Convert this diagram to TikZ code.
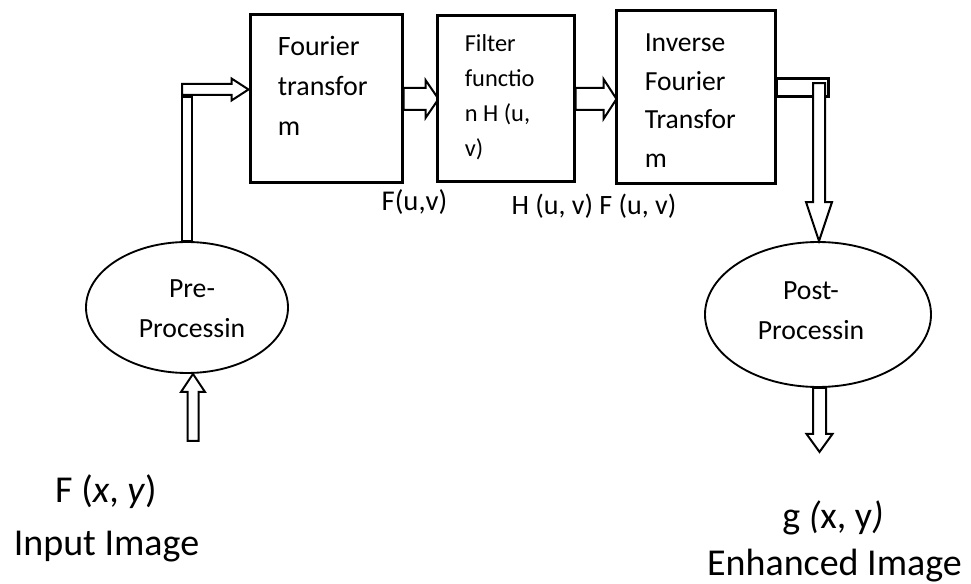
\documentclass[tikz,border=0pt]{standalone}
\usepackage{fontspec}
\setmainfont{Carlito}
\usetikzlibrary{calc,shapes.geometric,backgrounds}
\newcommand\stk[2][l]{\begin{tabular}[t]{@{}#1@{}}#2\end{tabular}}
\begin{document}
\begin{tikzpicture}[x=0.75pt,y=-0.75pt,
  box/.style={draw, line width=2.25pt, fill=white, inner sep=0pt},
  oval/.style={draw, ellipse, line width=1.4pt, fill=white, inner sep=0pt},
  blk/.style={draw, line width=1.5pt, fill=white, line join=miter},
  bar/.style={draw, line width=2.25pt, fill=white},
  txt/.style={inner sep=0pt, text=black}]
\useasboundingbox (0,0) rectangle (971,584);

% blocks
\node[box, minimum width=152*0.75pt, minimum height=168*0.75pt] (b1) at (326,99) {};
\node[box, minimum width=137*0.75pt, minimum height=166*0.75pt] (b2) at (505.5,99) {};
\node[box, minimum width=159*0.75pt, minimum height=173*0.75pt] (b3) at (695.5,97.5) {};
\node[oval, minimum width=202*0.75pt, minimum height=131*0.75pt] (pre) at (187,307.5) {};
\node[oval, minimum width=226*0.75pt, minimum height=145*0.75pt] (post) at (818,314.5) {};

% texts inside blocks
\node[txt, anchor=base west, font=\fontsize{21}{30}\selectfont] (t1) at ($(b1.north west)+(29,42)$) {\stk{Fourier\\transfor\\m}};
\node[txt, anchor=base west, font=\fontsize{18.3}{26.25}\selectfont] (t2) at ($(b2.north west)+(29,37)$) {\stk{Filter\\functio\\n H (u,\\v)}};
\node[txt, anchor=base west, font=\fontsize{20.7}{29}\selectfont] (t3) at ($(b3.north west)+(30,42)$) {\stk{Inverse\\Fourier\\Transfor\\m}};
\node[txt, anchor=base, font=\fontsize{20.8}{30}\selectfont] (tp) at ($(pre.center)+(5,-9.5)$) {\stk[c]{Pre-\\Processin}};
\node[txt, anchor=base, font=\fontsize{20.8}{30}\selectfont] (tq) at ($(post.center)+(-7,-14.5)$) {\stk[c]{Post-\\Processin}};

% connector labels
\node[txt, anchor=base, font=\fontsize{21.5}{25}\selectfont] (l1) at ($(b1.south east)+(11,26)$) {F(u,v)};
\node[txt, anchor=base, font=\fontsize{21}{25}\selectfont] (l2) at ($(b3.south west)+(-20.5,29)$) {H (u, v) F (u, v)};

% input / output labels
\node[txt, anchor=base, font=\fontsize{28.5}{34}\selectfont] (in1) at (106,502) {F (\textit{x}, \textit{y})};
\node[txt, anchor=base, font=\fontsize{28.5}{34}\selectfont] (in2) at (106.5,555) {Input Image};
\node[txt, anchor=base, font=\fontsize{28.5}{34}\selectfont] (out1) at (833,528) {g \textit{(}x, y\textit{)}};
\node[txt, anchor=base, font=\fontsize{28.5}{34}\selectfont] (out2) at (834.5,575) {Enhanced Image};

% coordinates for connectors
\coordinate (r1) at ($(pre.north)+(-5,0)$);
\coordinate (a1t) at ($(b1.west)+(0,-9.5)$);
\coordinate (a1s) at (r1 |- a1t);
\coordinate (a2s) at (b1.east);
\coordinate (a2t) at ($(b2.west)+(3,0)$);
\coordinate (a3s) at (b2.east);
\coordinate (a3t) at ($(b3.west |- b2.east)+(2,0)$);
\coordinate (a4t) at ($(post.north)+(1,0)$);
\coordinate (a4s) at ($(a4t)+(0,-158)$);
\coordinate (a5t) at ($(pre.south)+(6,0)$);
\coordinate (a5s) at ($(a5t)+(0,67)$);
\coordinate (a6s) at ($(post.south)+(1.5,0)$);
\coordinate (a6t) at ($(a6s)+(0,64)$);

\begin{scope}[on background layer]
  % vertical bar from Pre-processing
  \draw[blk] (r1) rectangle ($(r1)+(10,-144)$);
  % arrow into Fourier transform
  \draw[blk] ($(a1s)+(0,-5.5)$) -- ($(a1t)+(-17,-5.5)$) -- ($(a1t)+(-17,-11)$) -- (a1t)
     -- ($(a1t)+(-17,11)$) -- ($(a1t)+(-17,5.5)$) -- ($(a1s)+(0,5.5)$) -- cycle;
  % Fourier -> Filter
  \draw[blk] ($(a2s)+(0,-11)$) -- ($(a2t)+(-13,-11)$) -- ($(a2t)+(-13,-19)$) -- (a2t)
     -- ($(a2t)+(-13,19)$) -- ($(a2t)+(-13,11)$) -- ($(a2s)+(0,11)$) -- cycle;
  % Filter -> Inverse
  \draw[blk] ($(a3s)+(0,-11)$) -- ($(a3t)+(-13,-11)$) -- ($(a3t)+(-13,-20)$) -- (a3t)
     -- ($(a3t)+(-13,20)$) -- ($(a3t)+(-13,11)$) -- ($(a3s)+(0,11)$) -- cycle;
  % bar out of Inverse
  \draw[bar] ($(b3.east)+(0,-18.5)$) rectangle ($(b3.east)+(52,-0.5)$);
\end{scope}

% Inverse -> Post-processing
\draw[blk] ($(a4s)+(-6,0)$) -- ($(a4t)+(-6,-39)$) -- ($(a4t)+(-13,-39)$) -- (a4t)
   -- ($(a4t)+(13,-39)$) -- ($(a4t)+(6,-39)$) -- ($(a4s)+(6,0)$) -- cycle;
% input -> Pre-processing
\draw[blk] ($(a5s)+(-5.5,0)$) -- ($(a5t)+(-5.5,18)$) -- ($(a5t)+(-12,18)$) -- (a5t)
   -- ($(a5t)+(12,18)$) -- ($(a5t)+(5.5,18)$) -- ($(a5s)+(5.5,0)$) -- cycle;
% Post-processing -> output
\draw[blk] ($(a6s)+(-6.5,0)$) -- ($(a6t)+(-6.5,-18)$) -- ($(a6t)+(-13,-18)$) -- (a6t)
   -- ($(a6t)+(13,-18)$) -- ($(a6t)+(6.5,-18)$) -- ($(a6s)+(6.5,0)$) -- cycle;
\end{tikzpicture}
\end{document}
